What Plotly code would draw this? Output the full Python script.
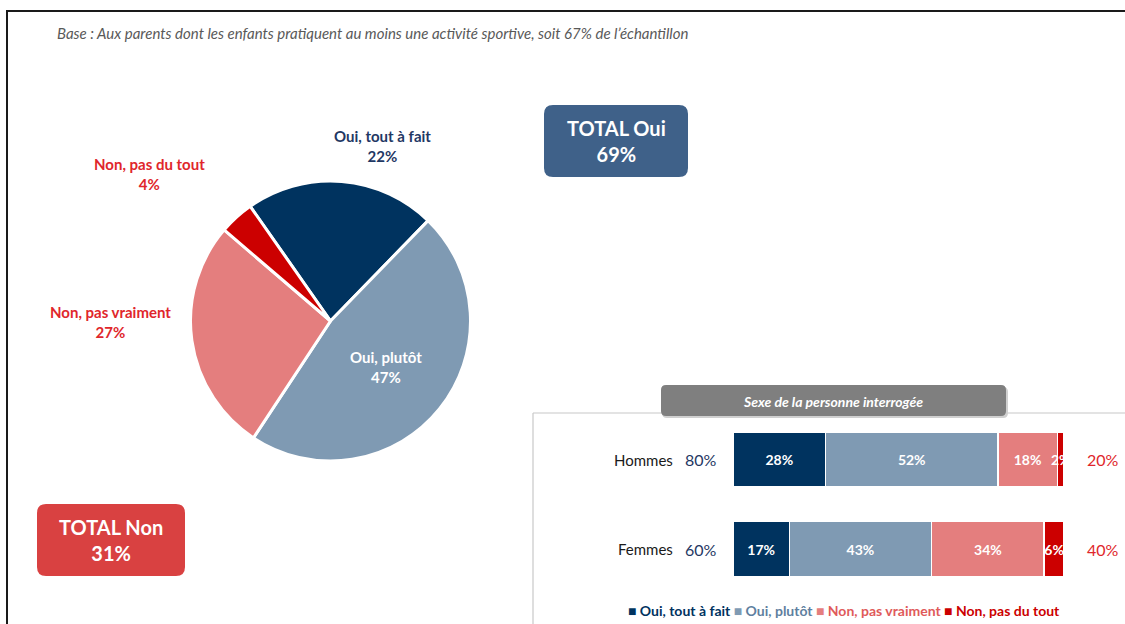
import plotly.graph_objects as go

W, H = 1125, 624

# ---- data ----
pie_labels = ["Oui, tout à fait", "Oui, plutôt", "Non, pas vraiment", "Non, pas du tout"]
pie_values = [22, 47, 27, 4]
colors = ["#00335F", "#7F9AB3", "#E47E7E", "#CC0000"]
label_colors = ["#1F3864", "#FFFFFF", "#E0262B", "#E0262B"]

groups = ["Hommes", "Femmes"]
bar_series = {
    "Oui, tout à fait": [28, 17],
    "Oui, plutôt": [52, 43],
    "Non, pas vraiment": [18, 34],
    "Non, pas du tout": [2, 6],
}
legend_text_colors = ["#00335F", "#5F7FA0", "#E05A5A", "#CC0000"]

subtitle = "Base : Aux parents dont les enfants pratiquent au moins une activité sportive, soit 67% de l\u2019échantillon"
panel_title = "Sexe de la personne interrogée"

FONT = "Lato"

def px(x):
    return x / W

def py(y):
    return 1 - y / H

def rounded_rect(x0, y0, x1, y1, r):
    return (
        f"M {px(x0 + r)} {py(y0)} L {px(x1 - r)} {py(y0)} Q {px(x1)} {py(y0)} {px(x1)} {py(y0 + r)} "
        f"L {px(x1)} {py(y1 - r)} Q {px(x1)} {py(y1)} {px(x1 - r)} {py(y1)} "
        f"L {px(x0 + r)} {py(y1)} Q {px(x0)} {py(y1)} {px(x0)} {py(y1 - r)} "
        f"L {px(x0)} {py(y0 + r)} Q {px(x0)} {py(y0)} {px(x0 + r)} {py(y0)} Z"
    )

fig = go.Figure()

# pie
fig.add_trace(go.Pie(
    labels=pie_labels, values=pie_values, sort=False, direction="clockwise",
    rotation=-35, textinfo="none", hoverinfo="label+percent",
    marker=dict(colors=colors, line=dict(color="white", width=3)),
    domain=dict(x=[px(190), px(471)], y=[py(461), py(181)]),
    showlegend=False,
))

# stacked bars
for (name, vals), c in zip(bar_series.items(), colors):
    fig.add_trace(go.Bar(
        y=groups, x=vals, name=name, orientation="h",
        marker=dict(color=c, line=dict(color="white", width=1.5)),
        text=[f"{v}%" for v in vals], textposition="inside",
        insidetextanchor="middle", textangle=0, cliponaxis=False,
        textfont=dict(color="white", size=14, family=FONT, weight="bold"),
        xaxis="x", yaxis="y", showlegend=False,
    ))

fig.update_layout(
    width=W, height=H, margin=dict(l=0, r=0, t=0, b=0),
    paper_bgcolor="white", plot_bgcolor="white",
    barmode="stack", bargap=0.385,
    uniformtext=dict(minsize=14, mode="show"),
    font=dict(family=FONT),
    xaxis=dict(domain=[px(733), px(1064)], range=[0, 100], visible=False, fixedrange=True),
    yaxis=dict(domain=[py(593.75), py(414.75)], categoryorder="array",
               categoryarray=groups[::-1], visible=False, fixedrange=True),
)

shapes = []
# frame lines
shapes.append(dict(type="line", xref="paper", yref="paper", x0=px(7), x1=px(7), y0=py(11), y1=py(630),
                   line=dict(color="#1a1a1a", width=2)))
shapes.append(dict(type="line", xref="paper", yref="paper", x0=px(6), x1=px(1130), y0=py(11), y1=py(11),
                   line=dict(color="#1a1a1a", width=2)))
# bar panel border
shapes.append(dict(type="line", xref="paper", yref="paper", x0=px(533), x1=px(533), y0=py(413), y1=py(630),
                   line=dict(color="#C8C8C8", width=1.2)))
shapes.append(dict(type="line", xref="paper", yref="paper", x0=px(533), x1=px(1130), y0=py(413), y1=py(413),
                   line=dict(color="#C8C8C8", width=1.2)))
# header tab
shapes.append(dict(type="path", xref="paper", yref="paper", path=rounded_rect(662, 387, 1008, 418, 5),
                   fillcolor="#D0D0D0", line=dict(width=0)))
shapes.append(dict(type="path", xref="paper", yref="paper", path=rounded_rect(661, 385, 1006, 416, 5),
                   fillcolor="#7F7F7F", line=dict(width=0)))
# total boxes
shapes.append(dict(type="path", xref="paper", yref="paper", path=rounded_rect(544, 105, 688, 177, 9),
                   fillcolor="#3F6189", line=dict(width=0)))
shapes.append(dict(type="path", xref="paper", yref="paper", path=rounded_rect(37, 504, 185, 576, 9),
                   fillcolor="#D94141", line=dict(width=0)))

annotations = []

def add_text(x, y, text, color, size=13, bold=True, italic=False, xanchor="center"):
    t = text
    if bold:
        t = f"<b>{t}</b>"
    if italic:
        t = f"<i>{t}</i>"
    annotations.append(dict(
        x=px(x), y=py(y), xref="paper", yref="paper",
        text=t, showarrow=False, xanchor=xanchor, yanchor="middle",
        font=dict(color=color, size=size, family=FONT), align="center",
    ))

add_text(55, 33, subtitle, "#595959", size=15, bold=False, italic=True, xanchor="left")

# pie labels
pie_label_pos = [(382, 146), (386, 367), (110, 322), (149, 174)]
for lab, v, col, (lx, ly) in zip(pie_labels, pie_values, label_colors, pie_label_pos):
    add_text(lx, ly, f"{lab}<br>{v}%", col, size=15)

# totals
tot_oui = pie_values[0] + pie_values[1]
tot_non = pie_values[2] + pie_values[3]
add_text(616, 141, f"TOTAL Oui<br>{tot_oui}%", "white", size=20)
add_text(111, 540, f"TOTAL Non<br>{tot_non}%", "white", size=20)

# panel title
add_text(833, 401, panel_title, "white", size=14, bold=True, italic=True)

# bar side labels
keys = list(bar_series.keys())
for i, g in enumerate(groups):
    oui = bar_series[keys[0]][i] + bar_series[keys[1]][i]
    non = bar_series[keys[2]][i] + bar_series[keys[3]][i]
    annotations.append(dict(x=px(675), y=g, xref="paper", yref="y", text=g, showarrow=False,
                            xanchor="right", font=dict(color="#1a1a1a", size=15, family=FONT)))
    annotations.append(dict(x=px(701), y=g, xref="paper", yref="y", text=f"{oui}%", showarrow=False,
                            xanchor="center", font=dict(color="#1F3864", size=16, family=FONT)))
    annotations.append(dict(x=px(1103), y=g, xref="paper", yref="y", text=f"{non}%", showarrow=False,
                            xanchor="center", font=dict(color="#E0262B", size=16, family=FONT)))

# legend
parts = []
for name, c, tc in zip(keys, colors, legend_text_colors):
    parts.append(f"<span style='color:{c}'>■</span><span style='color:{tc}'> {name}</span>")
annotations.append(dict(x=px(844), y=py(610), xref="paper", yref="paper", text="<b>" + " ".join(parts) + "</b>",
                        showarrow=False, xanchor="center", yanchor="middle",
                        font=dict(size=14, family=FONT)))

fig.update_layout(shapes=shapes, annotations=annotations)

fig.write_html("out.html", config={"displayModeBar": False},
               post_script="document.body.style.margin='0';document.body.style.overflow='hidden';")
